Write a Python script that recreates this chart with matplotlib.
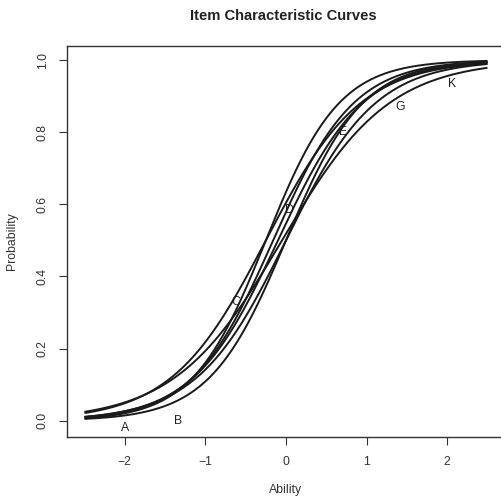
import numpy as np
import matplotlib
matplotlib.use("Agg")
import matplotlib.pyplot as plt

plt.rcParams['font.family'] = ['Liberation Sans', 'DejaVu Sans']

# Item parameters (2PL logistic): discrimination a, difficulty b
items = ["A", "B", "C", "D", "E", "G", "K"]
a_params = [1.5, 2.1, 1.7, 1.9, 1.8, 2.2, 2.0]
b_params = [-0.05, 0.00, -0.25, -0.10, 0.00, -0.25, -0.16]

# Label positions (ability, probability)
label_x = [-2.0, -1.34, -0.62, 0.04, 0.71, 1.41, 2.06]
label_y = [-0.02, 0.0, 0.33, 0.585, 0.80, 0.87, 0.935]

x_ticks = [-2, -1, 0, 1, 2]
y_ticks = [0.0, 0.2, 0.4, 0.6, 0.8, 1.0]

theta = np.linspace(-2.5, 2.5, 400)

fig = plt.figure(figsize=(5.01, 5.01), dpi=100)
ax = fig.add_axes([67/501, (501-437)/501, 437/501, (437-46)/501])

for a, b in zip(a_params, b_params):
    p = 1.0 / (1.0 + np.exp(-a * (theta - b)))
    ax.plot(theta, p, color="#1a1a1a", lw=1.4, zorder=3, solid_capstyle="butt")

for lab, lx, ly in zip(items, label_x, label_y):
    ax.text(lx, ly, lab, ha="center", va="center", fontsize=8.8,
            color="#222222", zorder=2)

ax.set_xlim(-2.717, 2.705)
ax.set_ylim(-0.045, 1.039)
ax.set_xticks(x_ticks)
ax.set_xticklabels([("\u2212" + str(-t)) if t < 0 else str(t) for t in x_ticks])
ax.set_yticks(y_ticks)
ax.set_yticklabels([f"{t:.1f}" for t in y_ticks], rotation=90, va="center")
ax.tick_params(direction="out", length=6, width=0.8, labelsize=8.8,
               colors="#333333")
ax.tick_params(axis="x", pad=8)
ax.tick_params(axis="y", pad=7)
for s in ax.spines.values():
    s.set_linewidth(1.0)
    s.set_color("#333333")

fig.text(286/501, 1 - 490/501, "Ability", ha="center", va="center",
         fontsize=8.8, color="#333333")
fig.text(12/501, 1 - 241/501, "Probability", ha="center", va="center",
         rotation=90, fontsize=8.8, color="#333333")
fig.text(283/501, 1 - 16/501, "Item Characteristic Curves", ha="center",
         va="center", fontsize=10.6, fontweight="bold", color="#222222")

fig.savefig("out.png", dpi=100, facecolor="white")
